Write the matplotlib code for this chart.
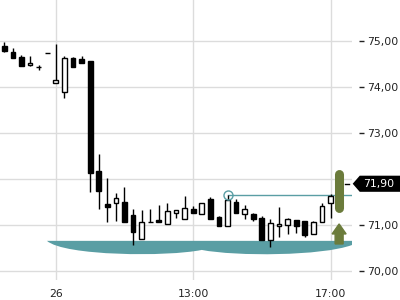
import matplotlib
matplotlib.use('Agg')
import matplotlib.pyplot as plt
from matplotlib.path import Path
from matplotlib.patches import PathPatch, FancyArrow, Polygon
from matplotlib.transforms import blended_transform_factory

# --- OHLC data (15 min candles) ---
opens = [74.90, 74.76, 74.65, 74.47, 74.43, 74.74, 74.08, 73.89, 74.63, 74.61,
         74.57, 72.18, 71.46, 71.48, 71.50, 71.22, 70.70, 71.07, 71.12, 71.02,
         71.26, 71.13, 71.35, 71.24, 71.56, 71.17, 70.99, 71.50, 71.24, 71.24,
         71.15, 70.67, 70.98, 71.00, 71.11, 71.09, 70.80, 71.06, 71.48, 71.65]
highs = [74.98, 74.85, 74.70, 74.67, 74.48, 74.74, 74.94, 74.67, 74.66, 74.67,
         74.57, 72.55, 72.02, 71.70, 71.83, 71.35, 71.32, 71.35, 71.44, 71.48,
         71.32, 71.64, 71.42, 71.48, 71.62, 71.20, 71.66, 71.57, 71.44, 71.27,
         71.20, 71.13, 71.40, 71.16, 71.11, 71.09, 71.10, 71.48, 71.67, 71.85]
lows = [74.76, 74.62, 74.45, 74.45, 74.38, 74.74, 74.08, 73.76, 74.44, 74.52,
        71.73, 71.36, 71.08, 71.10, 71.06, 70.56, 70.70, 71.07, 71.06, 71.02,
        71.15, 71.13, 71.27, 71.24, 71.14, 70.99, 70.99, 71.26, 71.13, 71.10,
        70.68, 70.53, 70.74, 70.81, 70.84, 70.75, 70.80, 71.06, 71.16, 71.65]
closes = [74.78, 74.62, 74.45, 74.52, 74.43, 74.74, 74.15, 74.62, 74.44, 74.53,
          72.13, 71.75, 71.40, 71.59, 71.06, 70.86, 71.06, 71.07, 71.06, 71.31,
          71.32, 71.37, 71.27, 71.48, 71.14, 70.99, 71.54, 71.26, 71.35, 71.14,
          70.68, 71.04, 71.03, 71.13, 70.99, 70.78, 71.06, 71.41, 71.64, 71.72]

x_ticks = [6, 22, 38]
x_labels = ['26', '13:00', '17:00']
y_ticks = [70, 71, 72, 73, 74, 75]

last_price = 71.90
ref_idx = 26
ref_price = 71.657

# pattern band (bezier control points, data units)
band_top = 70.66
band_left = 4.97
band_right = 40.5
band_join = (23.0, 70.463)

TEAL = '#5a9ea4'
OLIVE = '#6b7b3b'
GRID = '#dcdcdc'

fig = plt.figure(figsize=(4, 3), dpi=100)
ax = fig.add_axes([0, 20 / 300, 352 / 400, 280 / 300])
ax.set_xlim(-0.5, 40.5)
ax.set_ylim(69.81, 75.89)

# grid
ax.set_xticks(x_ticks)
ax.set_xticklabels(x_labels)
ax.set_yticks(y_ticks)
# the 72,00 label sits under the last-price tag
ax.set_yticklabels(['' if v == 72 else ('%.2f' % v).replace('.', ',')
                    for v in y_ticks])
ax.grid(True, color=GRID, linewidth=1)
ax.set_axisbelow(True)
for s in ax.spines.values():
    s.set_visible(False)

ax.yaxis.tick_right()
ax.spines['right'].set_position(('outward', 5))
ax.tick_params(axis='y', length=3.6, width=1, pad=2.2, labelsize=7.8,
               colors='#222222')
ax.spines['bottom'].set_position(('outward', 18))
ax.tick_params(axis='x', direction='in', length=2.9, width=1, pad=-11.5,
               labelsize=7.8, colors='#222222')

# pattern band
verts = [(band_left, band_top), (band_right, band_top), (band_right, 70.57),
         (37, 70.33), (27, 70.32), band_join,
         (19, 70.31), (7, 70.33), (band_left, band_top),
         (band_left, band_top)]
codes = [Path.MOVETO, Path.LINETO, Path.LINETO,
         Path.CURVE4, Path.CURVE4, Path.CURVE4,
         Path.CURVE4, Path.CURVE4, Path.CURVE4,
         Path.CLOSEPOLY]
ax.add_patch(PathPatch(Path(verts, codes), facecolor=TEAL, edgecolor='none',
                       zorder=1))

# candles
for i, (o, h, l, c) in enumerate(zip(opens, highs, lows, closes)):
    ax.vlines(i, l, h, color='black', linewidth=1, zorder=3)
    fill = 'white' if c > o else 'black'
    ax.bar(i, abs(c - o), bottom=min(o, c), width=0.55, color=fill,
           edgecolor='black', linewidth=1, zorder=4)

# reference line + circle
ax.plot([ref_idx, 40.5], [ref_price, ref_price], color=TEAL, linewidth=1,
        zorder=2)
ax.plot(ref_idx, ref_price, 'o', markersize=6.5, markerfacecolor='none',
        markeredgecolor=TEAL, markeredgewidth=1, zorder=5)

# signal bar + arrow
ax.plot([39, 39], [72.117, 71.379], color=OLIVE, linewidth=6.5,
        solid_capstyle='round', zorder=6)
ax.add_patch(FancyArrow(39, 70.593, 0, 0.434, width=0.93, head_width=1.63,
                        head_length=0.217, length_includes_head=True,
                        color=OLIVE, zorder=6))

# last price tag
tr = blended_transform_factory(ax.transAxes, ax.transData)
h = 0.175
tag = Polygon([(1.002, last_price), (1.022, last_price + h), (1.14, last_price + h),
               (1.14, last_price - h), (1.022, last_price - h)],
              closed=True, transform=tr, facecolor='black', edgecolor='none',
              clip_on=False, zorder=10)
ax.add_patch(tag)
ax.plot([0.98, 0.992], [last_price, last_price], transform=tr, color='black',
        linewidth=1, clip_on=False, zorder=10)
ax.text(1.075, last_price, ('%.2f' % last_price).replace('.', ','),
        transform=tr, color='white', fontsize=7.8, ha='center', va='center',
        zorder=11, clip_on=False)

fig.savefig('out.png', dpi=100)
